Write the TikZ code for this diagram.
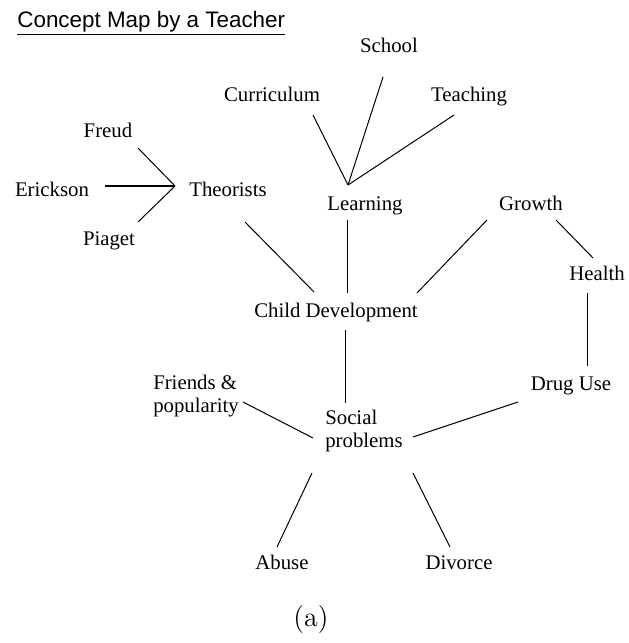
\documentclass[tikz,border=0pt]{standalone}
\usepackage{fontspec}
\setmainfont{Liberation Serif}
\newfontfamily\titlefont{Liberation Sans}
\newfontfamily\capfont{Latin Modern Roman}
\tikzset{
  concept/.style={inner sep=0pt, font=\fontsize{10.4}{12.5}\selectfont, text height=7pt, text depth=2pt},
  twoline/.style={inner sep=0pt, font=\fontsize{10.4}{11.8}\selectfont, align=left},
  link/.style={line width=0.5pt}
}
\begin{document}
\begin{tikzpicture}[x=0.5pt,y=-0.5pt]
\useasboundingbox (0,0) rectangle (628,643);
% title
\node[anchor=base west, inner sep=0pt, font=\titlefont\fontsize{11.2}{13}\selectfont] (title) at (17,27) {\underline{Concept Map by a Teacher}};
% concepts
\node[concept] (school) at (389,47) {School};
\node[concept] (curr) at (272,96) {Curriculum};
\node[concept] (teach) at (469,96) {Teaching};
\node[concept] (freud) at (108,132) {Freud};
\node[concept] (erick) at (52,191) {Erickson};
\node[concept] (theo) at (228,191) {Theorists};
\node[concept] (piaget) at (109,240) {Piaget};
\node[concept] (learn) at (365,205) {Learning};
\node[concept] (growth) at (531,205) {Growth};
\node[concept] (health) at (597,275) {Health};
\node[concept] (child) at (336,312) {Child Development};
\node[twoline] (friends) at (196,396) {Friends \&\\popularity};
\node[concept] (drug) at (571,385) {Drug Use};
\node[twoline] (social) at (364,431) {Social\\problems};
\node[concept] (abuse) at (282,564) {Abuse};
\node[concept] (divorce) at (459,564) {Divorce};
% meeting points
\coordinate (theohub) at ([shift={(-53,-5)}]theo.center);
\coordinate (learnhub) at ([shift={(-17,-20)}]learn.center);
% connectors
\draw[line width=1pt] ([shift={(53,-5)}]erick.center) -- (theohub);
\foreach \a/\da in {freud/{(30,16)}, piaget/{(29,-18)}}
  \draw[link] ([shift=\da]\a.center) -- (theohub);
\foreach \a/\da in {curr/{(41,19)}, school/{(-6,30)}, teach/{(-15,19)}}
  \draw[link] ([shift=\da]\a.center) -- (learnhub);
\foreach \a/\da/\b/\db in {
  theo/{(17,31)}/child/{(-22,-20)},
  learn/{(-18,15)}/child/{(11,-19)},
  growth/{(-44,15)}/child/{(81,-19)},
  growth/{(25,15)}/health/{(-4,-17)},
  health/{(-10,18)}/drug/{(16,-19)},
  child/{(9,18)}/social/{(-19,-28)},
  friends/{(47,6)}/social/{(-51,7)},
  drug/{(-53,17)}/social/{(49,6)},
  social/{(-52,42)}/abuse/{(-5,-17)},
  social/{(49,42)}/divorce/{(-9,-17)}}
  \draw[link] ([shift=\da]\a.center) -- ([shift=\db]\b.center);
% caption
\node[inner sep=0pt, font=\capfont\fontsize{14}{16}\selectfont] (caption) at (311,620) {(a)};
\end{tikzpicture}
\end{document}
